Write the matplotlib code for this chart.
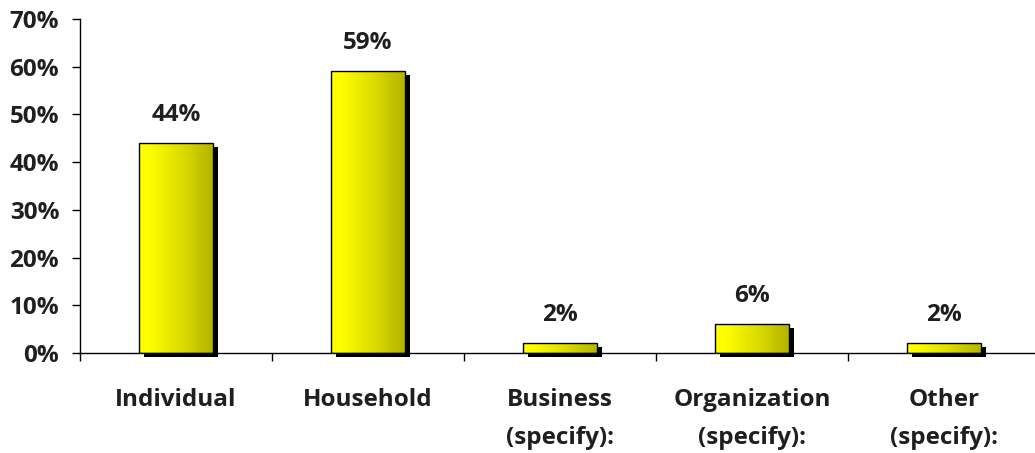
import matplotlib.pyplot as plt
import numpy as np
from matplotlib.colors import LinearSegmentedColormap
from matplotlib.transforms import ScaledTranslation

categories = ['Individual', 'Household', 'Business\n(specify):',
              'Organization\n(specify):', 'Other\n(specify):']
values = [44, 59, 2, 6, 2]
yticks = [0, 10, 20, 30, 40, 50, 60, 70]

plt.rcParams['font.family'] = ['Open Sans', 'DejaVu Sans']
plt.rcParams['font.weight'] = 'bold'
txt = '#1f1f1f'
fs = 17.5

fig = plt.figure(figsize=(10.35, 4.53), dpi=100)
ax = fig.add_axes([80 / 1035, 1 - 353 / 453, 960 / 1035, 334 / 453])

width = 0.39
x = np.arange(len(categories))
grad = LinearSegmentedColormap.from_list(
    'yel', [(0, '#ffff00'), (0.12, '#ffff00'), (0.6, '#dada00'), (1, '#b2b200')])
g = np.linspace(0, 1, 256).reshape(1, -1)

# drop shadow, shifted a few pixels right and down
shadow = ax.transData + ScaledTranslation(5 / 100, -4 / 100, fig.dpi_scale_trans)
ax.bar(x, values, width, color='black', transform=shadow, clip_on=False, zorder=2)

for xi, v in zip(x, values):
    ax.imshow(g, cmap=grad, aspect='auto', zorder=3,
              extent=[xi - width / 2, xi + width / 2, 0, v])
    ax.text(xi, v + 3.4, f'{v}%', ha='center', va='bottom', fontsize=fs,
            fontweight='bold', color=txt)

ax.bar(x, values, width, fill=False, edgecolor='black', linewidth=1, zorder=4)

ax.set_xlim(-0.5, len(categories) - 0.5)
ax.set_ylim(0, 70)
ax.set_yticks(yticks)
ax.set_yticklabels([f'{t}%' for t in yticks], fontsize=fs, color=txt)
ax.tick_params(axis='y', direction='out', length=6, width=1, pad=9)

ax.set_xticks(x)
ax.set_xticklabels(categories, fontsize=fs, color=txt, linespacing=1.8)
ax.tick_params(axis='x', which='major', length=0, pad=25)
ax.set_xticks(np.arange(-0.5, len(categories) - 0.5), minor=True)
ax.tick_params(axis='x', which='minor', direction='out', length=6, width=1)

for s in ['top', 'right']:
    ax.spines[s].set_visible(False)
for s in ['left', 'bottom']:
    ax.spines[s].set_linewidth(1)
    ax.spines[s].set_zorder(5)

fig.savefig('out.png', dpi=100)
